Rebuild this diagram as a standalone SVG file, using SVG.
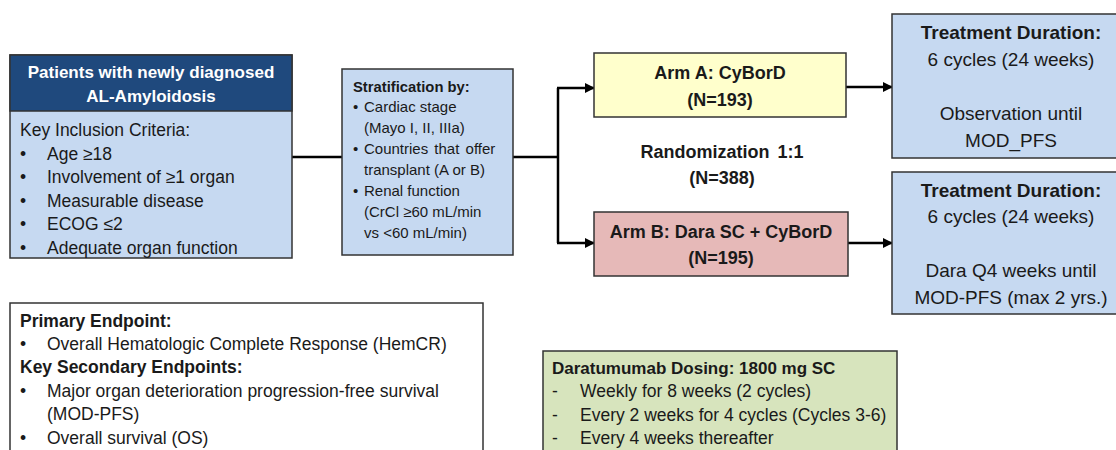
<svg xmlns="http://www.w3.org/2000/svg" width="1116" height="450" viewBox="0 0 1116 450">
<style>
text{font-family:"Liberation Sans",Arial,sans-serif;fill:#1a1a1a}
.b{font-weight:bold}
.box{stroke:#333;stroke-width:1.5}
.blue{fill:#C6D9F1}
.c{text-anchor:middle}
.body{font-size:17.5px}
.strat{font-size:15px}
.arm{font-size:18px;font-weight:bold}
.td{font-size:19px}
.conn{stroke:#000;stroke-width:2.5;fill:none}
</style>
<defs>
<marker id="ah" viewBox="0 0 10 10" refX="9" refY="5" markerWidth="4" markerHeight="4" orient="auto" markerUnits="strokeWidth">
<path d="M0,0 L10,5 L0,10 z" fill="#000"/>
</marker>
</defs>
<rect width="1116" height="450" fill="#fff"/>
<g id="connectors">
<line class="conn" x1="292" y1="157" x2="342" y2="157"/>
<line class="conn" x1="513" y1="157" x2="558" y2="157"/>
<polyline class="conn" points="558,88 558,243"/>
<line class="conn" x1="557" y1="88" x2="594" y2="88" marker-end="url(#ah)"/>
<line class="conn" x1="557" y1="243" x2="594" y2="243" marker-end="url(#ah)"/>
<line class="conn" x1="846" y1="87" x2="892" y2="87" marker-end="url(#ah)"/>
<line class="conn" x1="848" y1="243" x2="892" y2="243" marker-end="url(#ah)"/>
</g>
<g id="patients">
<rect class="box blue" x="10" y="55" width="282" height="203"/>
<rect class="box" x="10" y="55" width="282" height="56" fill="#1F497D"/>
<text class="b c" x="151" y="78" font-size="17" style="fill:#fff">Patients with newly diagnosed</text>
<text class="b c" x="151" y="102" font-size="17" style="fill:#fff">AL-Amyloidosis</text>
<text class="body" x="20" y="136">Key Inclusion Criteria:</text>
<text class="body" x="20" y="160">•</text><text class="body" x="47" y="160">Age ≥18</text>
<text class="body" x="20" y="183">•</text><text class="body" x="47" y="183">Involvement of ≥1 organ</text>
<text class="body" x="20" y="207">•</text><text class="body" x="47" y="207">Measurable disease</text>
<text class="body" x="20" y="230">•</text><text class="body" x="47" y="230">ECOG ≤2</text>
<text class="body" x="20" y="254">•</text><text class="body" x="47" y="254">Adequate organ function</text>
</g>
<g id="stratification">
<rect class="box blue" x="342" y="69" width="171" height="186"/>
<text class="b" x="353" y="92" font-size="14.8">Stratification by:</text>
<text class="strat" x="353" y="112">•</text><text class="strat" x="364" y="112">Cardiac stage</text>
<text class="strat" x="364" y="133">(Mayo I, II, IIIa)</text>
<text class="strat" x="353" y="154">•</text><text class="strat" x="364" y="154" word-spacing="2">Countries that offer</text>
<text class="strat" x="364" y="175">transplant (A or B)</text>
<text class="strat" x="353" y="196">•</text><text class="strat" x="364" y="196">Renal function</text>
<text class="strat" x="364" y="217">(CrCl ≥60 mL/min</text>
<text class="strat" x="364" y="238">vs &lt;60 mL/min)</text>
</g>
<g id="armA">
<rect class="box" x="594" y="53" width="252" height="64" fill="#FFFFCC"/>
<text class="arm c" x="720" y="79">Arm A: CyBorD</text>
<text class="arm c" x="720" y="106">(N=193)</text>
</g>
<g id="randomization">
<text class="arm c" x="722" y="158" font-size="18.5" word-spacing="3">Randomization 1:1</text>
<text class="arm c" x="722" y="184">(N=388)</text>
</g>
<g id="armB">
<rect class="box" x="594" y="212" width="254" height="64" fill="#E6B9B8"/>
<text class="arm c" x="721" y="238" font-size="19">Arm B: Dara SC + CyBorD</text>
<text class="arm c" x="721" y="264">(N=195)</text>
</g>
<g id="durationA">
<rect class="box blue" x="892" y="14" width="230" height="144"/>
<text class="td b c" x="1011" y="39">Treatment Duration:</text>
<text class="td c" x="1011" y="66">6 cycles (24 weeks)</text>
<text class="td c" x="1011" y="120">Observation until</text>
<text class="td c" x="1011" y="147">MOD_PFS</text>
</g>
<g id="durationB">
<rect class="box blue" x="892" y="172" width="230" height="142"/>
<text class="td b c" x="1011" y="197">Treatment Duration:</text>
<text class="td c" x="1011" y="223">6 cycles (24 weeks)</text>
<text class="td c" x="1011" y="277">Dara Q4 weeks until</text>
<text class="td c" x="1011" y="304">MOD-PFS (max 2 yrs.)</text>
</g>
<g id="endpoints">
<rect class="box" x="10" y="303" width="473" height="160" fill="#fff"/>
<text class="body b" x="20" y="327">Primary Endpoint:</text>
<text class="body" x="20" y="350">•</text><text class="body" x="47" y="350">Overall Hematologic Complete Response (HemCR)</text>
<text class="body b" x="20" y="373">Key Secondary Endpoints:</text>
<text class="body" x="20" y="397">•</text><text class="body" x="47" y="397">Major organ deterioration progression-free survival</text>
<text class="body" x="47" y="420">(MOD-PFS)</text>
<text class="body" x="20" y="444">•</text><text class="body" x="47" y="444">Overall survival (OS)</text>
</g>
<g id="dosing">
<rect class="box" x="543" y="351" width="354" height="112" fill="#D7E4BD"/>
<text class="b" x="552" y="374" font-size="17">Daratumumab Dosing: 1800 mg SC</text>
<text class="body" x="552" y="397">-</text><text class="body" x="580" y="397">Weekly for 8 weeks (2 cycles)</text>
<text class="body" x="552" y="421">-</text><text class="body" x="580" y="421">Every 2 weeks for 4 cycles (Cycles 3-6)</text>
<text class="body" x="552" y="444">-</text><text class="body" x="580" y="444">Every 4 weeks thereafter</text>
</g>
</svg>
